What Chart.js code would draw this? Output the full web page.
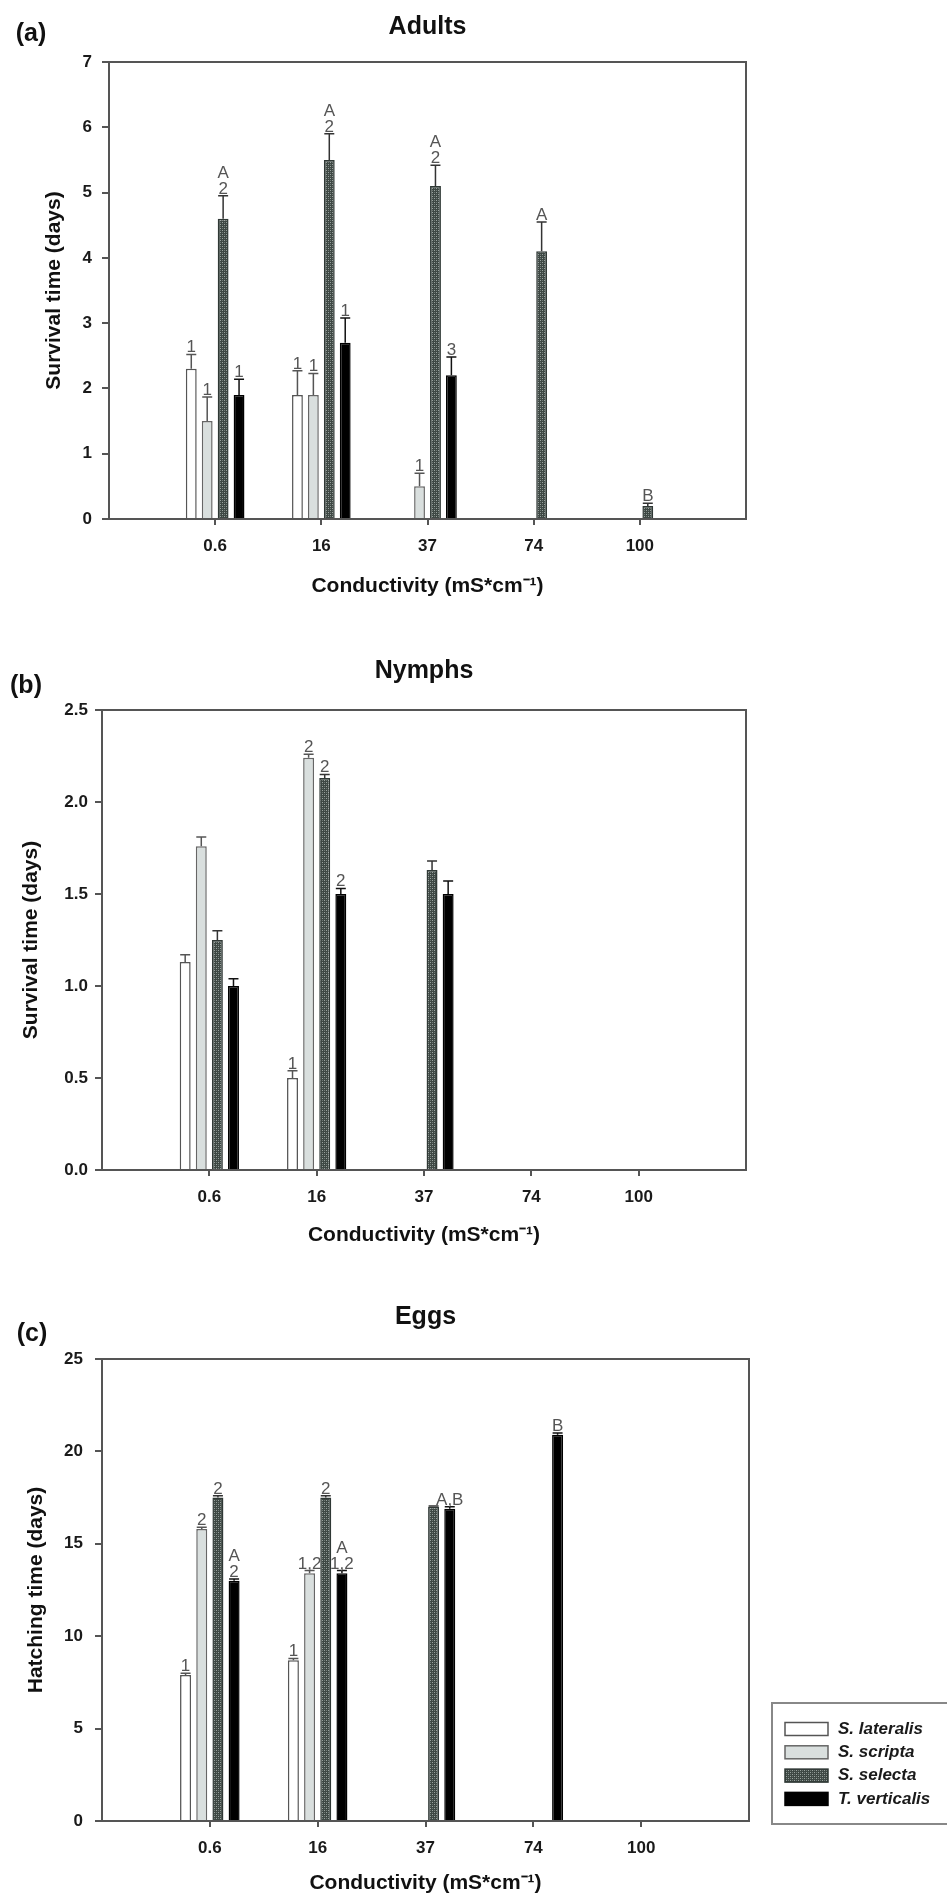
<!DOCTYPE html>
<html>
<head>
<meta charset="utf-8">
<script src="https://cdn.jsdelivr.net/npm/chart.js@4.4.1/dist/chart.umd.min.js"></script>
<style>
  body { margin: 0; background: #fff; height: 1898px; overflow: hidden; position: relative; }
  .panel { position: absolute; left: 0; width: 947px; }
</style>
</head>
<body>
<div class="panel" style="top:0px;height:601px"><canvas id="adults"></canvas></div>
<div class="panel" style="top:640px;height:610px"><canvas id="nymphs"></canvas></div>
<div class="panel" style="top:1290px;height:608px"><canvas id="eggs"></canvas></div>
<script>
const conductivity = ['0.6', '16', '37', '74', '100'];
const species = ['S. lateralis', 'S. scripta', 'S. selecta', 'T. verticalis'];

// (a) adults, survival time (days) - one row per species
const adultsMean = [
    [2.3, 1.9, null, null, null],
    [1.5, 1.9, 0.5, null, null],
    [4.6, 5.5, 5.1, 4.1, 0.2],
    [1.9, 2.7, 2.2, null, null]
];
const adultsSE = [
    [0.22, 0.37, 0, 0, 0],
    [0.37, 0.33, 0.2, 0, 0],
    [0.35, 0.4, 0.32, 0.45, 0.04],
    [0.24, 0.38, 0.28, 0, 0]
];
const adultsSig = [
    ['1', '1', '', '', ''],
    ['1', '1', '1', '', ''],
    ['A|2', 'A|2', 'A|2', 'A', 'B'],
    ['1', '1', '3', '', '']
];
const adultsTicks = [0, 1, 2, 3, 4, 5, 6, 7];

// (b) nymphs, survival time (days)
const nymphsMean = [
    [1.13, 0.5, null, null, null],
    [1.76, 2.24, null, null, null],
    [1.25, 2.13, 1.63, null, null],
    [1.0, 1.5, 1.5, null, null]
];
const nymphsSE = [
    [0.04, 0.04, 0, 0, 0],
    [0.05, 0.02, 0, 0, 0],
    [0.05, 0.02, 0.05, 0, 0],
    [0.04, 0.03, 0.07, 0, 0]
];
const nymphsSig = [
    ['', '1', '', '', ''],
    ['', '2', '', '', ''],
    ['', '2', '', '', ''],
    ['', '2', '', '', '']
];
const nymphsTicks = [0, 0.5, 1.0, 1.5, 2.0, 2.5];

// (c) eggs, hatching time (days)
const eggsMean = [
    [7.9, 8.7, null, null, null],
    [15.8, 13.4, null, null, null],
    [17.5, 17.5, 17.0, null, null],
    [13.0, 13.4, 16.9, 20.9, null]
];
const eggsSE = [
    [0.1, 0.1, 0, 0, 0],
    [0.1, 0.15, 0, 0, 0],
    [0.1, 0.1, 0.05, 0, 0],
    [0.1, 0.15, 0.1, 0.1, 0]
];
const eggsSig = [
    ['1', '1', '', '', ''],
    ['2', '1,2', '', '', ''],
    ['2', '2', '', '', ''],
    ['A|2', 'A|1,2', 'A,B', 'B', '']
];
const eggsTicks = [0, 5, 10, 15, 20, 25];

const FONT = "'Liberation Sans', Arial, sans-serif";
const fills = ['#ffffff', '#d9dfde', null, '#000000'];
const edges = ['#555555', '#666666', '#2f3835', '#000000'];
const whiskers = ['#555555', '#555555', '#333333', '#111111'];

const pad = arr => [null, ...arr, null];

function hatch(ctx) {
    const c = document.createElement('canvas');
    c.width = 4;
    c.height = 4;
    const g = c.getContext('2d');
    g.fillStyle = '#3e4844';
    g.fillRect(0, 0, 4, 4);
    g.fillStyle = '#9aa39f';
    g.fillRect(0, 0, 1, 1);
    g.fillRect(2, 2, 1, 1);
    g.fillStyle = '#6f7975';
    g.fillRect(2, 0, 1, 1);
    g.fillRect(0, 2, 1, 1);
    return ctx.createPattern(c, 'repeat');
}

// frame, error bars, letters, panel titles and the species key
const panelMarks = {
    id: 'panelMarks',
    afterDatasetsDraw(chart) {
        const { ctx, chartArea: a } = chart;
        const y = chart.scales.y;
        ctx.save();
        chart.data.datasets.forEach((ds, i) => {
            chart.getDatasetMeta(i).data.forEach((bar, j) => {
                const v = ds.data[j];
                if (v === null || v === undefined) return;
                const e = ds.se[j] || 0;
                const yTop = y.getPixelForValue(v + e);
                if (e > 0) {
                    ctx.strokeStyle = ds.whisker;
                    ctx.lineWidth = 1.5;
                    ctx.beginPath();
                    ctx.moveTo(bar.x, bar.y);
                    ctx.lineTo(bar.x, yTop);
                    ctx.moveTo(bar.x - 5, yTop);
                    ctx.lineTo(bar.x + 5, yTop);
                    ctx.stroke();
                }
                const s = ds.sig[j];
                if (s) {
                    ctx.fillStyle = '#555';
                    ctx.font = '17px ' + FONT;
                    ctx.textAlign = 'center';
                    ctx.textBaseline = 'alphabetic';
                    s.split('|').reverse().forEach((t, k) => {
                        ctx.fillText(t, bar.x, yTop - 2 - k * 16);
                    });
                }
            });
        });
        ctx.strokeStyle = '#555';
        ctx.lineWidth = 2;
        ctx.strokeRect(a.left, a.top, a.width, a.height);
        ctx.restore();
    },
    afterDraw(chart, args, opts) {
        const { ctx, chartArea: a } = chart;
        ctx.save();
        ctx.fillStyle = '#111';
        ctx.textBaseline = 'middle';
        ctx.textAlign = 'center';
        ctx.font = 'bold 25px ' + FONT;
        ctx.fillText(opts.title, (a.left + a.right) / 2, opts.titleY);
        ctx.fillText(opts.tag, opts.tagX, opts.tagY);

        if (opts.key) {
            const bx = a.right + 23, by = a.bottom - 118;
            ctx.strokeStyle = '#888';
            ctx.lineWidth = 2;
            ctx.strokeRect(bx, by, 200, 121);
            chart.data.datasets.forEach((ds, i) => {
                const cy = by + 26 + i * 23.3;
                ctx.fillStyle = ds.backgroundColor;
                ctx.fillRect(bx + 13, cy - 6.5, 43, 13);
                ctx.strokeStyle = ds.borderColor;
                ctx.lineWidth = 1.5;
                ctx.strokeRect(bx + 13, cy - 6.5, 43, 13);
                ctx.fillStyle = '#1a1a1a';
                ctx.font = 'italic bold 17px ' + FONT;
                ctx.textAlign = 'left';
                ctx.fillText(ds.label, bx + 66, cy);
            });
        }
        ctx.restore();
    }
};

function panel(id, o) {
    const canvas = document.getElementById(id);
    const selectaFill = hatch(canvas.getContext('2d'));
    const datasets = species.map((name, i) => ({
        label: name,
        data: pad(o.mean[i]),
        se: pad(o.se[i]),
        sig: pad(o.sig[i]),
        whisker: whiskers[i],
        backgroundColor: i === 2 ? selectaFill : fills[i],
        borderColor: edges[i],
        borderWidth: 1.5,
        categoryPercentage: 0.6,
        barPercentage: 0.68
    }));

    return new Chart(canvas, {
        type: 'bar',
        data: { labels: ['', ...conductivity, ''], datasets: datasets },
        options: {
            responsive: true,
            maintainAspectRatio: false,
            animation: false,
            devicePixelRatio: 1,
            layout: { padding: { top: o.top, right: o.right, bottom: 0, left: 0 } },
            plugins: {
                legend: { display: false },
                tooltip: { enabled: false },
                panelMarks: {
                    title: o.title, titleY: o.titleY,
                    tag: o.tag, tagX: o.tagX, tagY: o.tagY,
                    key: o.key
                }
            },
            scales: {
                x: {
                    offset: false,
                    grid: {
                        offset: false,
                        drawOnChartArea: false,
                        tickLength: 6,
                        lineWidth: 2,
                        tickColor: c => (c.index === 0 || c.index === 6) ? 'rgba(0,0,0,0)' : '#555'
                    },
                    border: { display: false },
                    ticks: {
                        autoSkip: false,
                        maxRotation: 0,
                        padding: 11,
                        color: '#1a1a1a',
                        font: { family: FONT, size: 17, weight: 'bold' }
                    },
                    title: {
                        display: true,
                        text: 'Conductivity (mS*cm⁻¹)',
                        color: '#111',
                        font: { family: FONT, size: 21, weight: 'bold' },
                        padding: { top: 0, bottom: 2 }
                    },
                    afterFit: s => { s.height = o.xh; }
                },
                y: {
                    min: o.ticks[0],
                    max: o.ticks[o.ticks.length - 1],
                    afterBuildTicks: s => { s.ticks = o.ticks.map(v => ({ value: v })); },
                    grid: { drawOnChartArea: false, tickLength: 7, lineWidth: 2, color: '#555' },
                    border: { display: false },
                    ticks: {
                        padding: o.yPad,
                        color: '#1a1a1a',
                        font: { family: FONT, size: 17, weight: 'bold' },
                        callback: v => Number(v).toFixed(o.dec)
                    },
                    title: {
                        display: true,
                        text: o.yTitle,
                        color: '#111',
                        font: { family: FONT, size: 21, weight: 'bold' },
                        padding: { top: o.yTitlePad, bottom: 0 }
                    },
                    afterFit: s => { s.width = o.yw; }
                }
            }
        },
        plugins: [panelMarks]
    });
}

panel('adults', {
    mean: adultsMean, se: adultsSE, sig: adultsSig, ticks: adultsTicks, dec: 0,
    title: 'Adults', titleY: 27, tag: '(a)', tagX: 31, tagY: 34,
    yTitle: 'Survival time (days)', yTitlePad: 42, yPad: 10,
    top: 62, right: 201, yw: 109, xh: 82, key: false
});

panel('nymphs', {
    mean: nymphsMean, se: nymphsSE, sig: nymphsSig, ticks: nymphsTicks, dec: 1,
    title: 'Nymphs', titleY: 31, tag: '(b)', tagX: 26, tagY: 46,
    yTitle: 'Survival time (days)', yTitlePad: 19, yPad: 7,
    top: 70, right: 201, yw: 102, xh: 80, key: false
});

panel('eggs', {
    mean: eggsMean, se: eggsSE, sig: eggsSig, ticks: eggsTicks, dec: 0,
    title: 'Eggs', titleY: 27.5, tag: '(c)', tagX: 32, tagY: 44,
    yTitle: 'Hatching time (days)', yTitlePad: 24, yPad: 12,
    top: 69, right: 198, yw: 102, xh: 77, key: true
});
</script>
</body>
</html>
